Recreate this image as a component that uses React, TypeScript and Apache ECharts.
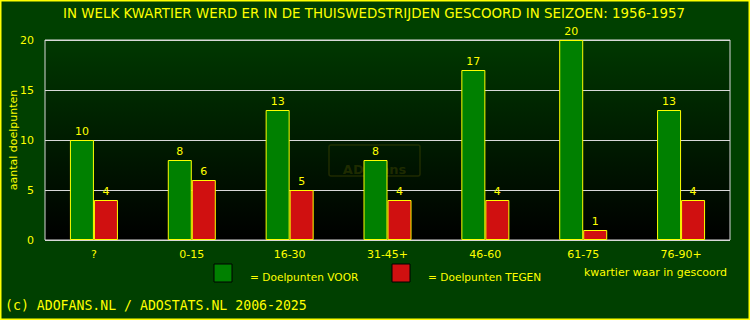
import React, { useEffect, useRef } from "react";
import * as echarts from "echarts";

const categories = ["?", "0-15", "16-30", "31-45+", "46-60", "61-75", "76-90+"];
const voorValues = [10, 8, 13, 8, 17, 20, 13];
const tegenValues = [4, 6, 5, 4, 4, 1, 4];
const yTicks = [0, 5, 10, 15, 20];

const YELLOW = "#ffff00";
const FONT = "DejaVu Sans";

export default function App() {
  const ref = useRef<HTMLDivElement>(null);
  useEffect(() => {
    document.body.style.margin = "0";
    const chart = echarts.init(ref.current!, null, { renderer: "svg" });
    chart.setOption({
      animation: false,
      backgroundColor: "#004000",
      textStyle: { fontFamily: FONT },
      grid: {
        left: 45,
        right: 20,
        top: 40,
        bottom: 80,
        containLabel: false,
        outerBoundsMode: "none",
        show: true,
        borderColor: "#d8d8d8",
        borderWidth: 1,
        backgroundColor: {
          type: "linear",
          x: 0,
          y: 0,
          x2: 0,
          y2: 1,
          colorStops: [
            { offset: 0, color: "#003800" },
            { offset: 1, color: "#000000" },
          ],
        },
      },
      xAxis: {
        type: "category",
        data: categories,
        axisLine: { show: false },
        axisTick: { show: false },
        axisLabel: { color: YELLOW, fontSize: 11, margin: 9, fontFamily: FONT },
      },
      yAxis: {
        type: "value",
        min: yTicks[0],
        max: yTicks[yTicks.length - 1],
        interval: 5,
        axisLine: { show: false },
        axisTick: { show: false },
        axisLabel: { color: YELLOW, fontSize: 11, margin: 11, fontFamily: FONT },
        splitLine: { lineStyle: { color: "#d8d8d8", width: 1 } },
      },
      series: [
        {
          name: "Doelpunten VOOR",
          type: "bar",
          data: voorValues,
          barWidth: 24,
          barGap: "0%",
          itemStyle: { color: "#008000", borderColor: YELLOW, borderWidth: 1 },
          label: { show: true, position: "top", distance: 3, color: YELLOW, fontSize: 11, fontFamily: FONT },
        },
        {
          name: "Doelpunten TEGEN",
          type: "bar",
          data: tegenValues,
          barWidth: 24,
          barGap: "0%",
          itemStyle: { color: "#d01010", borderColor: YELLOW, borderWidth: 1 },
          label: { show: true, position: "top", distance: 3, color: YELLOW, fontSize: 11, fontFamily: FONT },
        },
      ],
      graphic: [
        {
          type: "rect",
          shape: { x: 0.5, y: 0.5, width: 749, height: 319 },
          style: { fill: "none", stroke: YELLOW, lineWidth: 2 },
          silent: true,
        },
        {
          type: "text",
          x: 374,
          y: 13,
          style: {
            text: "IN WELK KWARTIER WERD ER IN DE THUISWEDSTRIJDEN GESCOORD IN SEIZOEN: 1956-1957",
            fill: YELLOW,
            font: `13.4px "${FONT}"`,
            align: "center",
            verticalAlign: "middle",
          },
        },
        {
          type: "text",
          x: 13,
          y: 140,
          rotation: Math.PI / 2,
          style: {
            text: "aantal doelpunten",
            fill: YELLOW,
            font: `11px "${FONT}"`,
            align: "center",
            verticalAlign: "middle",
          },
        },
        {
          type: "rect",
          shape: { x: 329, y: 145, width: 91, height: 31, r: 2 },
          style: { fill: "none", stroke: "rgba(90,90,0,0.35)", lineWidth: 1.5 },
          z: 0,
          silent: true,
        },
        {
          type: "text",
          x: 374.5,
          y: 169,
          style: {
            text: "ADOfans",
            fill: "rgba(90,90,0,0.35)",
            font: `bold 13px "${FONT}"`,
            align: "center",
            verticalAlign: "middle",
          },
          z: 0,
          silent: true,
        },
        {
          type: "rect",
          shape: { x: 214, y: 264, width: 18, height: 18 },
          style: { fill: "#008000", stroke: "#000000", lineWidth: 1 },
        },
        {
          type: "text",
          x: 250,
          y: 277,
          style: { text: "= Doelpunten VOOR", fill: YELLOW, font: `10.6px "${FONT}"`, verticalAlign: "middle" },
        },
        {
          type: "rect",
          shape: { x: 392, y: 264, width: 18, height: 18 },
          style: { fill: "#d01010", stroke: "#000000", lineWidth: 1 },
        },
        {
          type: "text",
          x: 428,
          y: 277,
          style: { text: "= Doelpunten TEGEN", fill: YELLOW, font: `10.6px "${FONT}"`, verticalAlign: "middle" },
        },
        {
          type: "text",
          x: 727,
          y: 272,
          style: { text: "kwartier waar in gescoord", fill: YELLOW, font: `11px "${FONT}"`, align: "right", verticalAlign: "middle" },
        },
        {
          type: "text",
          x: 5,
          y: 305,
          style: {
            text: "(c) ADOFANS.NL / ADOSTATS.NL 2006-2025",
            fill: YELLOW,
            font: `13.2px "DejaVu Sans Mono"`,
            verticalAlign: "middle",
          },
        },
      ],
    });
    return () => chart.dispose();
  }, []);
  return <div ref={ref} style={{ width: 750, height: 320 }} />;
}
